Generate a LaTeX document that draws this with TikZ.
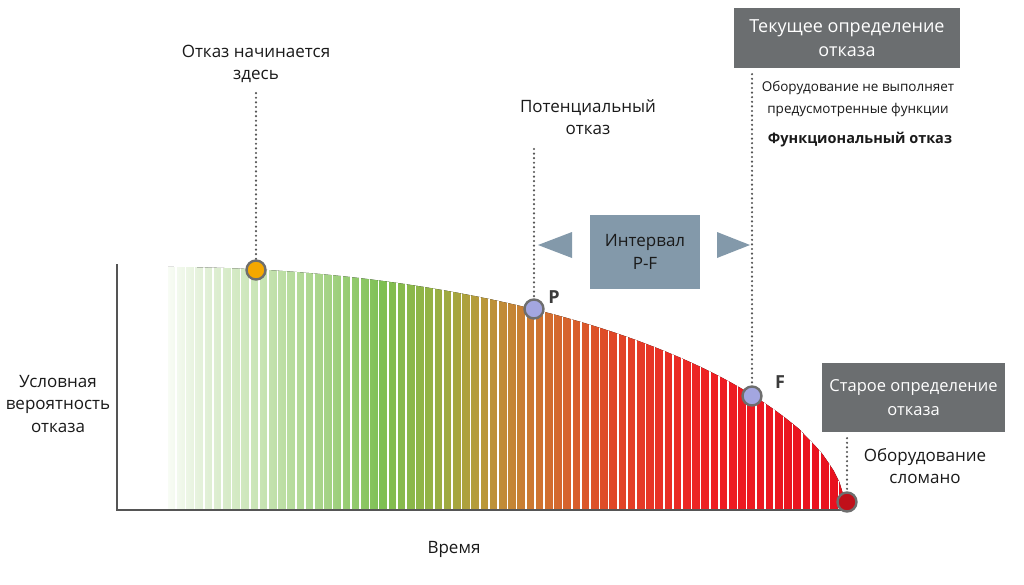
\documentclass[tikz,border=0pt]{standalone}
\usepackage{fontspec}
\setmainfont{Open Sans}
\definecolor{g0}{HTML}{F8FCF5}
\definecolor{g1}{HTML}{E4F1DA}
\definecolor{g2}{HTML}{C8E4B4}
\definecolor{g2b}{HTML}{A3D283}
\definecolor{g3}{HTML}{7EC053}
\definecolor{g4}{HTML}{94B244}
\definecolor{g5}{HTML}{B89A3A}
\definecolor{g6}{HTML}{D07230}
\definecolor{g7}{HTML}{DE4E28}
\definecolor{g8}{HTML}{E93026}
\definecolor{g9}{HTML}{EE1C22}
\definecolor{g10}{HTML}{E8101E}
\definecolor{txt}{HTML}{1A1A1A}
\definecolor{axisgray}{HTML}{555555}
\definecolor{ringgray}{HTML}{6E6E6E}
\definecolor{darkbox}{HTML}{6B6E70}
\definecolor{bluebox}{HTML}{8399AA}
\definecolor{orangept}{HTML}{F5A800}
\definecolor{lavpt}{HTML}{A3A6E0}
\definecolor{redpt}{HTML}{C0101A}
\pgfdeclarehorizontalshading{curveshade}{100bp}{color(0bp)=(g0); color(25bp)=(g0); color(27.4bp)=(g1); color(31.8bp)=(g2); color(37.0bp)=(g2b); color(40.7bp)=(g3); color(44.4bp)=(g4); color(48bp)=(g5); color(52.5bp)=(g6); color(56.9bp)=(g7); color(61.3bp)=(g8); color(65.8bp)=(g9); color(75bp)=(g10); color(100bp)=(g10)}
\begin{document}
\begin{tikzpicture}[x=1pt,y=-1pt,
  lbl/.style={text=txt,align=center,font=\fontsize{17}{22.5}\selectfont,inner sep=0pt},
  smalllbl/.style={text=txt,align=center,font=\fontsize{13.5}{22}\selectfont,inner sep=0pt},
  darkbox/.style={fill=darkbox,text=white,align=center,inner sep=0pt},
  pt/.style={circle,draw=ringgray,line width=2.4pt,minimum size=19pt,inner sep=0pt},
  dotline/.style={draw=axisgray,line width=2.4pt,line cap=round,dash pattern=on 0pt off 4.6pt},
  ptlbl/.style={text=axisgray!70!black,font=\fontsize{18}{20}\selectfont\bfseries,inner sep=0pt},
  tri/.style={fill=bluebox}
]
\useasboundingbox (0,0) rectangle (1024,584);
\fill[white] (0,0) rectangle (1024,584);
% curve with stripes
\begin{scope}
\clip (168,510) -- plot[domain=168:845,samples=120] (\x,{510-243*(1-((\x-165)/681)^2)^0.55}) -- (846,510) -- cycle;
\fill[shading=curveshade] (168,258) rectangle (846,511);
\foreach \k in {1,...,74} \draw[white,line width=1.7pt] ({167+9.2*\k},256) -- ({167+9.2*\k},512);
\end{scope}
% axes
\draw[axisgray,line width=1.6pt] (117,264) -- (117,510) -- (842,510);
% labels
\node[lbl] (ylab) at (58,404) {Условная\\вероятность\\отказа};
\node[lbl] (xlab) at (454,549) {Время};
\node[lbl] (start) at (256,64) {Отказ начинается\\здесь};
\node[lbl] (pot) at (588,117) {Потенциальный\\отказ};
\node[darkbox,font=\fontsize{18}{24}\selectfont,minimum width=226pt,minimum height=60pt] (cur) at (847,38) {Текущее определение\\отказа};
\node[smalllbl] (curtxt) at (858,99) {Оборудование не выполняет\\предусмотренные функции};
\node[text=txt,font=\fontsize{14.5}{20}\selectfont\bfseries,inner sep=0pt] (func) at (860,140) {Функциональный отказ};
\node[darkbox,font=\fontsize{16.5}{24}\selectfont,minimum width=183pt,minimum height=69pt] (old) at (913.5,397.5) {Старое определение\\отказа};
\node[lbl] (broken) at (925,466) {Оборудование\\сломано};
% interval box
\node[fill=bluebox,text=txt,align=center,font=\fontsize{17}{23}\selectfont,minimum width=110pt,minimum height=74pt,inner sep=0pt] (pf) at (645,252) {Интервал\\P-F};
\fill[tri] (538,245) -- (572,232) -- (572,258) -- cycle;
\fill[tri] (750,245) -- (717,232) -- (717,258) -- cycle;
% points
\node[pt,fill=orangept] (p0) at (256,270) {};
\node[pt,fill=lavpt] (P) at (534,309) {};
\node[pt,fill=lavpt] (F) at (752,396) {};
\node[pt,fill=redpt] (E) at (847,502) {};
\node[ptlbl] (Plab) at (554,297) {P};
\node[ptlbl] (Flab) at (780,382) {F};
% dotted connectors
\draw[dotline] (start.south) ++(0,10) -- (p0.north);
\draw[dotline] (P |- pot.south) ++(0,14) -- (P.north);
\draw[dotline] (F |- cur.south) ++(0,6) -- (F.north);
\draw[dotline] (E |- old.south) ++(0,6) -- (E.north);
\end{tikzpicture}
\end{document}
